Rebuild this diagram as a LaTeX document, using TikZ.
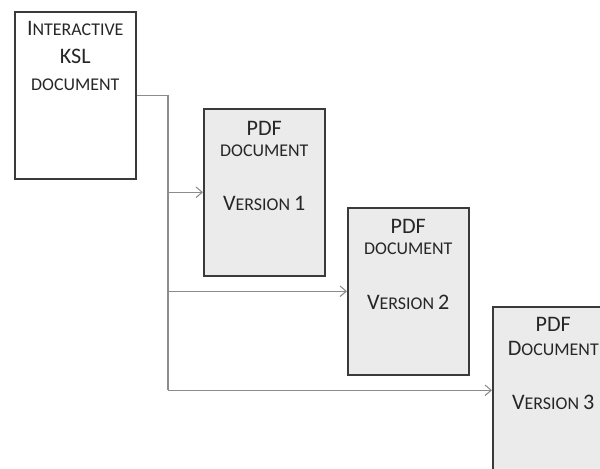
\documentclass[tikz,border=0pt]{standalone}
\usepackage{fontspec}
\setmainfont{Carlito}
\usetikzlibrary{arrows.meta}

\definecolor{boxgray}{HTML}{EBEBEB}
\definecolor{linegray}{HTML}{8C8C8C}
\definecolor{edgegray}{HTML}{3A3A3A}
\definecolor{textgray}{HTML}{262626}

% big capitals and small capitals, drawn by hand
\newcommand{\capbig}[1]{{\fontsize{12.6}{15}\selectfont #1}}
\newcommand{\capsmall}[1]{{\fontsize{10.2}{15}\selectfont #1}}

\tikzset{
  docbox/.style={draw=edgegray, line width=0.9pt, minimum width=2.42cm,
    minimum height=3.34cm, anchor=north west, inner sep=0pt},
  doctext/.style={anchor=north, align=center, inner sep=0pt, text=textgray},
  link/.style={draw=linegray, line width=0.6pt},
  linkarrow/.style={link, -{Straight Barb[length=3.5pt,width=6pt]}}
}

\begin{document}
\begin{tikzpicture}[x=0.02cm, y=-0.02cm]
            \useasboundingbox (0,0) rectangle (600,468);
            \clip (0,0) rectangle (600,468);

            \node[docbox, fill=white] (ksl) at (14,11) {};
            \node[docbox, fill=boxgray] (vone) at (203,108) {};
            \node[docbox, fill=boxgray] (vtwo) at (347,207) {};
            \node[docbox, fill=boxgray] (vthree) at (492,306) {};

            \node[doctext] (ksltext) at ([yshift=-0.2cm]ksl.north)
                {\capbig{I}\capsmall{NTERACTIVE}\\[4pt] \capbig{KSL}\\[3.5pt] \capsmall{DOCUMENT}};
            \node[doctext] (vonetext) at ([yshift=-0.25cm]vone.north)
                {\capbig{PDF}\\ \capsmall{DOCUMENT}\\[19pt] \capbig{V}\capsmall{ERSION} \capbig{1}};
            \node[doctext] (vtwotext) at ([yshift=-0.24cm]vtwo.north)
                {\capbig{PDF}\\ \capsmall{DOCUMENT}\\[19pt] \capbig{V}\capsmall{ERSION} \capbig{2}};
            \node[doctext] (vthreetext) at ([yshift=-0.22cm]vthree.north)
                {\capbig{PDF}\\[1.5pt] \capbig{D}\capsmall{OCUMENT}\\[19pt] \capbig{V}\capsmall{ERSION} \capbig{3}};

            \coordinate (bus) at (168,0);

            \draw[link] (ksl.east) -| (bus |- vthree.west);
            \draw[linkarrow] (bus |- vone.west) -- (vone.west);
            \draw[linkarrow] (bus |- vtwo.west) -- (vtwo.west);
            \draw[linkarrow] (bus |- vthree.west) -- (vthree.west);

        \end{tikzpicture}
\end{document}
